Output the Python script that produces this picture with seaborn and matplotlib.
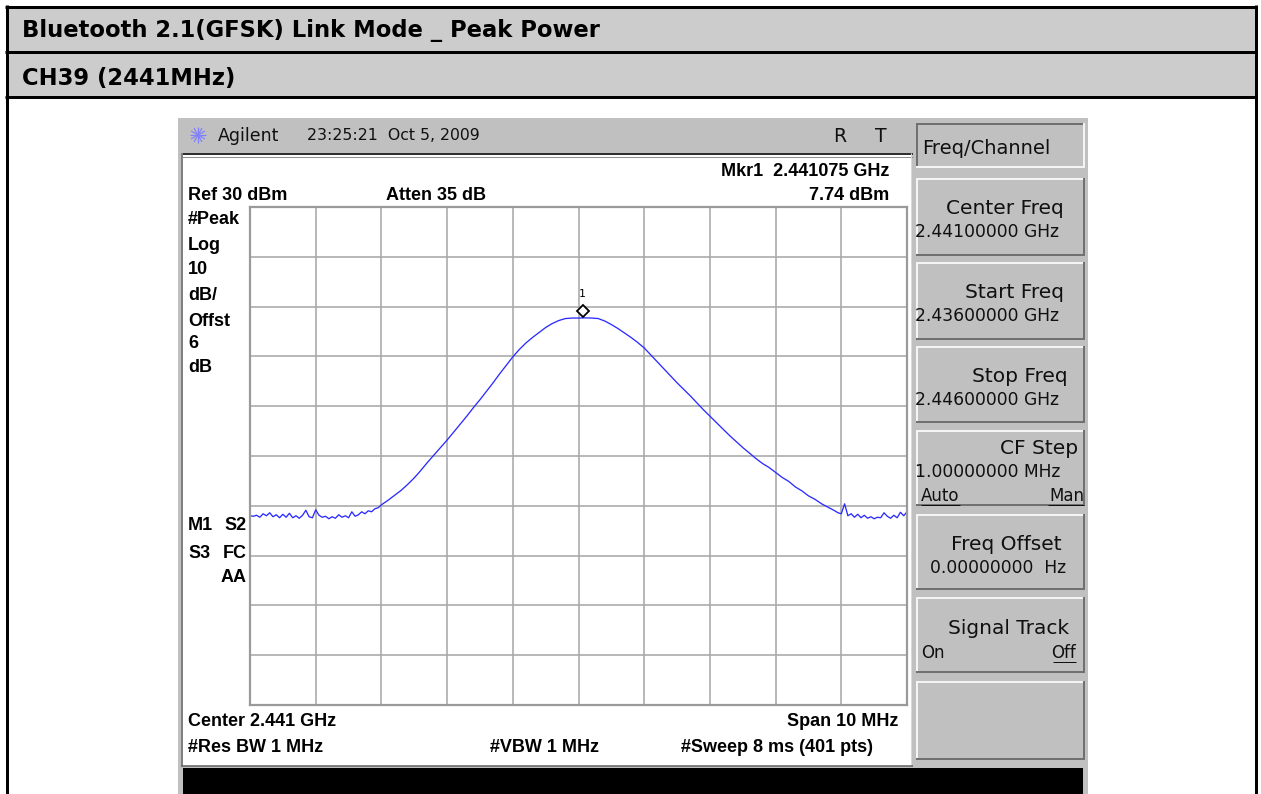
import numpy as np
import pandas as pd
import matplotlib
matplotlib.use("Agg")
import matplotlib.pyplot as plt
from matplotlib.patches import Rectangle
import matplotlib.transforms as mtransforms
import seaborn as sns

# ---------------- data ----------------
title_text = "Bluetooth 2.1(GFSK) Link Mode _ Peak Power"
channel_text = "CH39 (2441MHz)"

start_mhz = 2436.0
stop_mhz = 2446.0
ref_level_dbm = 30
db_per_div = 10
n_div = 10

# left noise floor (0.05 MHz steps)
floor_left_mhz = [
    0.00, 0.05, 0.10, 0.15, 0.20, 0.25, 0.30, 0.35, 0.40, 0.45,
    0.50, 0.55, 0.60, 0.65, 0.70, 0.75, 0.80, 0.85, 0.90, 0.95,
    1.00, 1.05, 1.10, 1.15, 1.20, 1.25, 1.30, 1.35, 1.40, 1.45,
    1.50, 1.55, 1.60, 1.65, 1.70, 1.75, 1.80, 1.85, 1.90, 1.95,
]
floor_left_dbm = [
    -32.0, -32.1, -31.9, -32.3, -31.6, -32.0, -31.4, -32.2, -31.8, -32.4,
    -31.7, -32.3, -31.5, -32.4, -32.0, -32.5, -31.9, -30.9, -32.2, -32.4,
    -30.8, -31.9, -32.3, -32.1, -32.6, -32.2, -32.5, -31.8, -32.3, -32.0,
    -32.4, -31.2, -32.1, -31.8, -31.2, -31.6, -31.0, -31.2, -30.6, -30.4,
]
# main emission (0.1 MHz steps)
emission_mhz = [
    2.0, 2.1, 2.2, 2.3, 2.4, 2.5, 2.6, 2.7, 2.8, 2.9,
    3.0, 3.1, 3.2, 3.3, 3.4, 3.5, 3.6, 3.7, 3.8, 3.9,
    4.0, 4.1, 4.2, 4.3, 4.4, 4.5, 4.6, 4.7, 4.8, 4.9,
    5.0, 5.1, 5.2, 5.3, 5.4, 5.5, 5.6, 5.7, 5.8, 5.9,
    6.0, 6.1, 6.2, 6.3, 6.4, 6.5, 6.6, 6.7, 6.8, 6.9,
    7.0, 7.1, 7.2, 7.3, 7.4, 7.5, 7.6, 7.7, 7.8, 7.9,
    8.0, 8.1, 8.2, 8.3, 8.4, 8.5, 8.6, 8.7, 8.8,
]
emission_dbm = [
    -29.8, -28.9, -27.9, -26.9, -25.7, -24.4, -22.9, -21.3, -19.8, -18.3,
    -16.8, -15.2, -13.6, -12.0, -10.3, -8.7, -7.0, -5.3, -3.5, -1.8,
    -0.1, 1.4, 2.7, 3.8, 4.8, 5.8, 6.6, 7.2, 7.6, 7.7,
    7.7, 7.74, 7.7, 7.6, 7.1, 6.4, 5.6, 4.7, 3.8, 2.8,
    1.7, 0.3, -1.1, -2.5, -3.9, -5.3, -6.6, -7.9, -9.3, -10.7,
    -12.0, -13.3, -14.6, -15.9, -17.1, -18.3, -19.4, -20.5, -21.5, -22.3,
    -23.3, -24.3, -25.1, -26.2, -27.0, -28.0, -28.7, -29.6, -30.3,
]
# right noise floor (0.05 MHz steps)
floor_right_mhz = [
    8.90, 8.95, 9.00, 9.05, 9.10, 9.15, 9.20, 9.25, 9.30, 9.35,
    9.40, 9.45, 9.50, 9.55, 9.60, 9.65, 9.70, 9.75, 9.80, 9.85,
    9.90, 9.95, 10.00,
]
floor_right_dbm = [
    -31.0, -31.4, -31.6, -29.6, -32.0, -31.6, -32.3, -31.7, -32.4, -31.9,
    -32.5, -32.2, -32.6, -32.3, -32.4, -31.4, -32.1, -32.5, -31.9, -32.4,
    -31.3, -32.0, -31.2,
]
marker_freq_mhz = 2441.075
marker_level_dbm = 7.74

header_time = "23:25:21  Oct 5, 2009"
screen_left_labels = ["#Peak", "Log", "10", "dB/", "Offst", "6", "dB"]

softkey_titles = ["Center Freq", "Start Freq", "Stop Freq", "CF Step",
                  "Freq Offset", "Signal Track", ""]
softkey_values = ["2.44100000 GHz", "2.43600000 GHz", "2.44600000 GHz",
                  "1.00000000 MHz", "0.00000000  Hz", "", ""]

# ---------------- style ----------------
sns.set_style("white")
plt.rcParams["font.family"] = ["Liberation Sans", "DejaVu Sans"]
plt.rcParams["text.color"] = "black"

W, H = 1261, 794
PX = 0.72  # points per pixel at dpi=100
fig = plt.figure(figsize=(W / 100, H / 100), dpi=100)
fig.patch.set_facecolor("white")

bg = fig.add_axes([0, 0, 1, 1])
bg.set_xlim(0, W)
bg.set_ylim(H, 0)
bg.axis("off")


def rect(x0, y0, x1, y1, fc, z=1):
    bg.add_patch(Rectangle((x0, y0), x1 - x0, y1 - y0, facecolor=fc,
                           edgecolor="none", zorder=z))


def line(xs, ys, c, w, z=3):
    bg.plot(xs, ys, color=c, lw=w * PX, solid_capstyle="butt", zorder=z)


# ----- outer table -----
rect(6, 6, 1256, 52, "#cccccc")
rect(6, 52, 1256, 97, "#cccccc")
line([5, 1257], [6.5, 6.5], "black", 3)
line([5, 1257], [51.5, 51.5], "black", 3)
line([5, 1257], [97, 97], "black", 3)
line([6.5, 6.5], [5, H], "black", 3)
line([1255.5, 1255.5], [5, H], "black", 3)
bg.text(22, 31, title_text, fontsize=16.3, fontweight="bold", va="center",
        ha="left", family=["DejaVu Sans"], color="black", zorder=5)
bg.text(22, 78, channel_text, fontsize=16.3, fontweight="bold", va="center",
        ha="left", family=["DejaVu Sans"], color="black", zorder=5)

# ----- instrument body -----
rect(178, 118, 1088, H, "#c0c0c0")
bx, by = 198, 135
for ang in np.linspace(0, np.pi, 6, endpoint=False):
    dx, dy = 8 * np.cos(ang), 8 * np.sin(ang)
    line([bx - dx, bx + dx], [by - dy, by + dy], "#8080ff", 1.2, z=4)
hkw = dict(family=["DejaVu Sans"], va="center", color="#101010")
bg.text(218, 136, "Agilent", fontsize=12.5, ha="left", **hkw)
bg.text(307, 136, header_time, fontsize=11.3, ha="left", **hkw)
bg.text(840, 136, "R", fontsize=13.5, ha="center", **hkw)
bg.text(881, 136, "T", fontsize=13.5, ha="center", **hkw)

# screen
rect(183, 153, 911, 766, "white")
line([181, 913], [153.5, 153.5], "#303030", 2)
line([181, 913], [157, 157], "#909090", 1)
line([182, 182], [153, 766], "#808080", 2)
line([910.5, 910.5], [153, 766], "#d8d8d8", 1)
line([181, 913], [765.5, 765.5], "#606060", 1.5)
rect(183, 768, 1083, H, "black", z=2)

# screen texts
tkw = dict(fontsize=13, fontweight="bold", va="center", color="black", zorder=5)
d = 2
bg.text(889, 169 + d, "Mkr1  2.441075 GHz", ha="right", **tkw)
bg.text(188, 194 + d, "Ref 30 dBm", ha="left", **tkw)
bg.text(386, 194 + d, "Atten 35 dB", ha="left", **tkw)
bg.text(889, 194 + d, f"{marker_level_dbm:.2f} dBm", ha="right", **tkw)
for lab, yy in zip(screen_left_labels, [218, 244, 268, 294, 320, 342, 366]):
    bg.text(188, yy + d, lab, ha="left", **tkw)
bg.text(188, 523 + d, "M1", ha="left", **tkw)
bg.text(247, 523 + d, "S2", ha="right", **tkw)
bg.text(188, 552 + d, "S3", ha="left", **tkw)
bg.text(247, 552 + d, "FC", ha="right", **tkw)
bg.text(247, 576 + d, "AA", ha="right", **tkw)
bg.text(188, 720 + d, "Center 2.441 GHz", ha="left", **tkw)
bg.text(898, 720 + d, "Span 10 MHz", ha="right", **tkw)
bg.text(188, 746 + d, "#Res BW 1 MHz", ha="left", **tkw)
bg.text(490, 746 + d, "#VBW 1 MHz", ha="left", **tkw)
bg.text(681, 746 + d, "#Sweep 8 ms (401 pts)", ha="left", **tkw)

# softkeys
x0k, x1k = 916, 1085
rect(x0k, 123, x1k, 168, "#c0c0c0")
line([x0k, x1k], [124, 124], "#707070", 2)
line([x0k + 1, x0k + 1], [123, 168], "#707070", 2)
line([x0k, x1k], [167, 167], "#f4f4f4", 2)
line([x1k - 1, x1k - 1], [123, 168], "#f4f4f4", 2)
skw = dict(family=["DejaVu Sans"], va="center", zorder=5, color="#101010")
bg.text(922, 148, "Freq/Channel", fontsize=14, ha="left", **skw)

btn_y = [(178, 256), (262, 340), (346, 423), (430, 506), (514, 590), (597, 673), (681, 760)]
title_right = [1064, 1064, 1068, 1078, 1062, 1069, 1064]
title_y_off = [30, 30, 30, 18, 30, 31, 30]
for (ya, yb), t, v, tr, toff in zip(btn_y, softkey_titles, softkey_values, title_right, title_y_off):
    rect(x0k, ya, x1k, yb, "#c0c0c0")
    line([x0k, x1k], [ya + 1, ya + 1], "#f4f4f4", 2)
    line([x0k + 1, x0k + 1], [ya, yb], "#f4f4f4", 2)
    line([x0k, x1k], [yb - 1, yb - 1], "#707070", 2)
    line([x1k - 1, x1k - 1], [ya, yb], "#707070", 2)
    if t:
        bg.text(tr, ya + toff, t, fontsize=14.5, ha="right", **skw)
    if v:
        vx = 930 if v.startswith("0.") else 915
        bg.text(vx, ya + toff + 24, v, fontsize=12.3, ha="left", **skw)

bg.text(921, 496, "Auto", fontsize=12, ha="left", **skw)
line([921, 960], [505, 505], "#101010", 1)
bg.text(1084, 496, "Man", fontsize=12, ha="right", **skw)
line([1048, 1084], [505, 505], "#101010", 1)
bg.text(921, 653, "On", fontsize=12, ha="left", **skw)
bg.text(1076, 653, "Off", fontsize=12, ha="right", **skw)
line([1053, 1076], [662, 662], "#101010", 1)

# ---------------- spectrum plot ----------------
ax = fig.add_axes([250 / W, 1 - 705 / H, 657 / W, 498 / H])
offsets = floor_left_mhz + emission_mhz + floor_right_mhz
levels = floor_left_dbm + emission_dbm + floor_right_dbm
df = pd.DataFrame({"freq": [start_mhz + f for f in offsets], "level": levels})
sns.lineplot(data=df, x="freq", y="level", ax=ax, color="#2a2aff",
             lw=1.3 * PX, estimator=None, sort=False)

bottom = ref_level_dbm - db_per_div * n_div
ax.set_xlim(start_mhz, stop_mhz)
ax.set_ylim(bottom, ref_level_dbm)
ax.set_xticks(np.linspace(start_mhz, stop_mhz, n_div + 1))
ax.set_yticks(np.linspace(bottom, ref_level_dbm, n_div + 1))
ax.set_xticklabels([])
ax.set_yticklabels([])
ax.tick_params(length=0)
ax.set_xlabel("")
ax.set_ylabel("")
ax.grid(True, color="#a8a8a8", lw=1.6 * PX)
ax.set_axisbelow(True)
for s in ax.spines.values():
    s.set_color("#9a9a9a")
    s.set_linewidth(2.2 * PX)

off = mtransforms.offset_copy(ax.transData, fig=fig, x=0, y=7 * PX, units="points")
ax.plot([marker_freq_mhz], [marker_level_dbm], marker="D", ms=6.5, mfc="white",
        mec="black", mew=1.3, transform=off, zorder=6, clip_on=False)
off2 = mtransforms.offset_copy(ax.transData, fig=fig, x=-1 * PX, y=24 * PX, units="points")
ax.text(marker_freq_mhz, marker_level_dbm, "1", transform=off2, fontsize=8,
        family=["DejaVu Sans Mono"], ha="center", va="center", color="black", zorder=6)

fig.savefig("out.png", dpi=100)
